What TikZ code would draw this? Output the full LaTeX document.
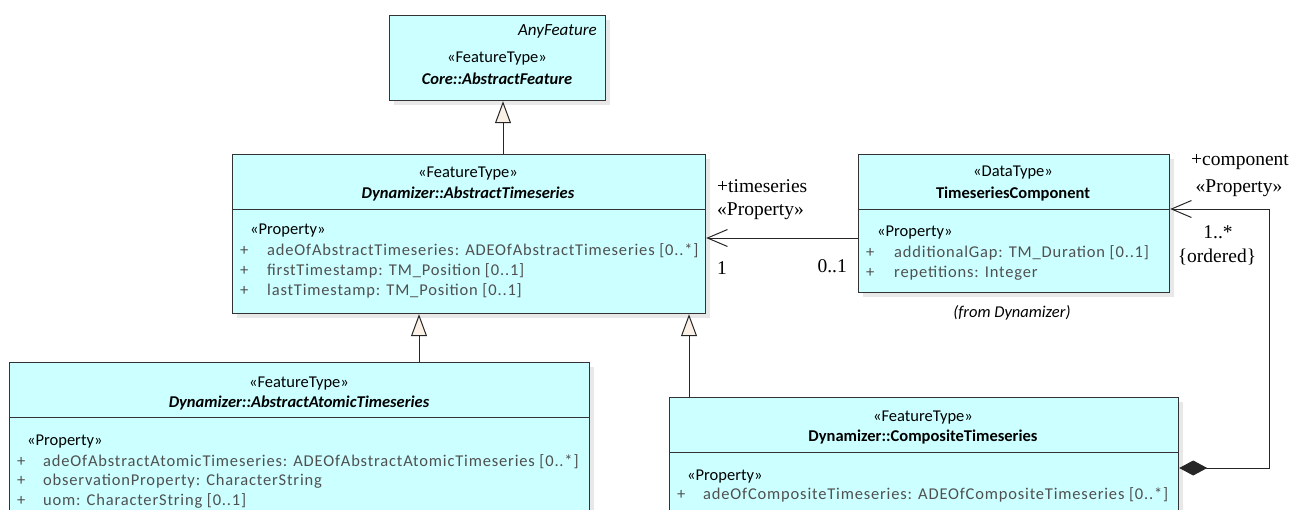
\documentclass[tikz,border=0pt]{standalone}
\usepackage{fontspec}
\setmainfont{Carlito}
\newfontfamily\attrfont{Carlito}[LetterSpace=5]
\newfontfamily\assocfont{Liberation Serif}
\usetikzlibrary{arrows.meta, positioning, shadows}
\definecolor{umlcyan}{RGB}{204,255,255}
\definecolor{umlbeige}{RGB}{250,240,230}
\definecolor{umlgrey}{RGB}{80,80,80}
\tikzset{umlclass/.style={draw=black!80, line width=1.2pt, fill=umlcyan, anchor=north west, inner sep=0pt, drop shadow={shadow xshift=4pt, shadow yshift=-4pt, fill=black!18}}}
\tikzset{umlsep/.style={draw=black!80, line width=1pt}}
\tikzset{headtext/.style={font=\fontsize{16.5}{19}\selectfont, inner sep=0pt}}
\tikzset{attrtext/.style={font=\attrfont\fontsize{16.5}{19}\selectfont, text=umlgrey, anchor=west, inner sep=0pt}}
\tikzset{assoclabel/.style={font=\assocfont\fontsize{19.5}{22}\selectfont, inner sep=0pt}}
\tikzset{generalize/.style={-{Triangle[length=22pt, width=16pt, fill=umlbeige]}, line width=1pt, draw=black!85}}
\tikzset{navigable/.style={-{Straight Barb[length=20pt, width=17pt]}, line width=1pt, draw=black!85}}
\tikzset{compose/.style={{Diamond[length=28pt, width=15pt]}-{Straight Barb[length=20pt, width=17pt]}, line width=1pt, draw=black!85}}

\begin{document}
\begin{tikzpicture}[x=1pt, y=-1pt]
    \useasboundingbox (0,0) rectangle (1290,509);
    \clip (0,0) rectangle (1290,509);

    \node[umlclass, minimum width=216pt, minimum height=85pt] (feat) at (389,15) {};
    \node[headtext, anchor=east, font=\itshape\fontsize{17}{19}\selectfont] (featmeta) at (597,31) {AnyFeature};
    \node[headtext] (featster) at (497,59) {«FeatureType»};
    \node[headtext, font=\bfseries\itshape\fontsize{16.5}{19}\selectfont] (featname) at (497,79) {Core::AbstractFeature};

    \node[umlclass, minimum width=473pt, minimum height=159pt] (ats) at (232,154) {};
    \draw[umlsep] (ats.west |- 0,209) -- (ats.east |- 0,209);
    \node[headtext] (atsster) at (468,174) {«FeatureType»};
    \node[headtext, font=\bfseries\itshape\fontsize{16.5}{19}\selectfont] (atsname) at (468,194) {Dynamizer::AbstractTimeseries};
    \node[headtext, anchor=west] (atsprop) at (250,231) {«Property»};
    \foreach \attr [count=\i] in {{adeOfAbstractTimeseries: ADEOfAbstractTimeseries [0..*]}, {firstTimestamp: TM\_Position [0..1]}, {lastTimestamp: TM\_Position [0..1]}} {
        \node[attrtext] (atsplus\i) at (240,{231+20*\i}) {+};
        \node[attrtext] (atsattr\i) at (267,{231+20*\i}) {\attr};
    }

    \node[umlclass, minimum width=311pt, minimum height=138pt] (tsc) at (858,154) {};
    \draw[umlsep] (tsc.west |- 0,209) -- (tsc.east |- 0,209);
    \node[headtext] (tscster) at (1013,173) {«DataType»};
    \node[headtext, font=\bfseries\fontsize{16.5}{19}\selectfont] (tscname) at (1013,194) {TimeseriesComponent};
    \node[headtext, anchor=west] (tscprop) at (877,233) {«Property»};
    \foreach \attr [count=\i] in {{additionalGap: TM\_Duration [0..1]}, {repetitions: Integer}} {
        \node[attrtext] (tscplus\i) at (866,{233+20*\i}) {+};
        \node[attrtext] (tscattr\i) at (894,{233+20*\i}) {\attr};
    }
    \node[headtext, font=\itshape\fontsize{16.5}{19}\selectfont] (tscfrom) at (1012,313) {(from Dynamizer)};

    \node[umlclass, minimum width=580pt, minimum height=170pt] (aat) at (9,362) {};
    \draw[umlsep] (aat.west |- 0,417) -- (aat.east |- 0,417);
    \node[headtext] (aatster) at (299,384) {«FeatureType»};
    \node[headtext, font=\bfseries\itshape\fontsize{16.5}{19}\selectfont] (aatname) at (299,403) {Dynamizer::AbstractAtomicTimeseries};
    \node[headtext, anchor=west] (aatprop) at (27,442) {«Property»};
    \foreach \attr [count=\i] in {{adeOfAbstractAtomicTimeseries: ADEOfAbstractAtomicTimeseries [0..*]}, {observationProperty: CharacterString}, {uom: CharacterString [0..1]}} {
        \node[attrtext] (aatplus\i) at (17,{442+19.5*\i}) {+};
        \node[attrtext] (aatattr\i) at (43,{442+19.5*\i}) {\attr};
    }

    \node[umlclass, minimum width=509pt, minimum height=140pt] (comp) at (669,397) {};
    \draw[umlsep] (comp.west |- 0,452) -- (comp.east |- 0,452);
    \node[headtext] (compster) at (923,418) {«FeatureType»};
    \node[headtext, font=\bfseries\fontsize{16.5}{19}\selectfont] (compname) at (923,437) {Dynamizer::CompositeTimeseries};
    \node[headtext, anchor=west] (compprop) at (687,477) {«Property»};
    \node[attrtext] (compplus1) at (677,495) {+};
    \node[attrtext] (compattr1) at (703,495) {adeOfCompositeTimeseries: ADEOfCompositeTimeseries [0..*]};

    \draw[generalize] (ats.north -| 503,0) -- (feat.south -| 503,0);
    \draw[generalize] (aat.north -| 419,0) -- (ats.south -| 419,0);
    \draw[generalize] (comp.north -| 689,0) -- (ats.south -| 689,0);

    \draw[navigable] (tsc.west |- 0,238) -- (ats.east |- 0,238);
    \node[assoclabel, anchor=west] (tsrole) at (717,186) {+timeseries};
    \node[assoclabel, anchor=west] (tsster) at (717,211) {«Property»};
    \node[assoclabel, anchor=west] (tsmult) at (717,268) {1};
    \node[assoclabel, anchor=east] (tscmult) at (847,266) {0..1};

    \coordinate (complow) at (1269,468);
    \coordinate (comphigh) at (1269,209);
    \draw[compose] (comp.east |- complow) -- (complow) -- (comphigh) -- (tsc.east |- comphigh);
    \node[assoclabel] (comprole) at (1240,162) {+component};
    \node[assoclabel] (compster2) at (1239,188) {«Property»};
    \node[assoclabel] (compmult) at (1218,232) {1..*};
    \node[assoclabel] (comporder) at (1217,257) {\{ordered\}};
\end{tikzpicture}
\end{document}
